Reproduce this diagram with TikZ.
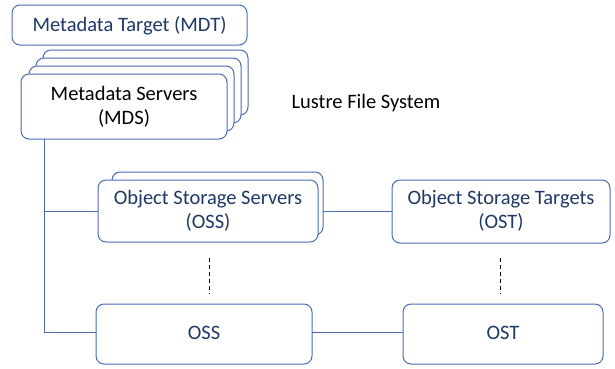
\documentclass[tikz,border=0pt]{standalone}
\usepackage{fontspec}
\setmainfont{Carlito}
\definecolor{edge}{HTML}{4A6BB5}
\definecolor{navy}{HTML}{1F3864}
\begin{document}
\begin{tikzpicture}[x=1pt,y=-1pt,
  box/.style={draw=edge,line width=1pt,rounded corners=8pt,fill=white},
  lbl/.style={font=\fontsize{20.5}{24.5}\selectfont,align=center},
  conn/.style={draw=edge,line width=1pt},
  dsh/.style={draw=black,line width=1pt,dash pattern=on 4pt off 3pt}]
\useasboundingbox (0,0) rectangle (615,368);
% MDT
\draw[box] (12,5) rectangle (247,45);
\node[lbl,text=navy] (mdt) at (129.5,25.5) {Metadata Target (MDT)};
% MDS stack
\draw[box] (43,50) rectangle (248,115);
\draw[box] (36,58) rectangle (241,123);
\draw[box] (29,66) rectangle (234,131);
\draw[box] (21,74) rectangle (227,139);
\coordinate (mdsb) at (44,139);
\node[lbl,text=black] (mds) at (124,107) {Metadata Servers\\(MDS)};
% label
\node[lbl,text=black,anchor=west] (lfs) at (288,103) {Lustre File System};
% OSS servers
\draw[box] (112,172) rectangle (323,235);
\draw[box] (98,180) rectangle (318,242);
\coordinate (ossl) at (98,211);
\coordinate (ossr) at (323,211);
\node[lbl,text=navy] (oss) at (208,211) {Object Storage Servers\\(OSS)};
% OST
\draw[box] (392,180) rectangle (610,243);
\coordinate (ostl) at (392,211);
\node[lbl,text=navy] (ost) at (501,211) {Object Storage Targets\\(OST)};
% bottom
\draw[box] (96,304) rectangle (312,364);
\node[lbl,text=navy] (oss2) at (204,333) {OSS};
\coordinate (oss2l) at (96,332);
\coordinate (oss2r) at (312,332);
\draw[box] (403,304) rectangle (603,364);
\node[lbl,text=navy] (ost2) at (503,333) {OST};
\coordinate (ost2l) at (403,332);
% connectors
\coordinate (c1) at (44,211);
\coordinate (c2) at (44,332);
\draw[conn] (mdsb) -- (c2) -- (oss2l);
\draw[conn] (c1) -- (ossl);
\draw[conn] (ossr) -- (ostl);
\draw[conn] (oss2r) -- (ost2l);
\coordinate (d1a) at (209,258);
\coordinate (d1b) at (209,294);
\coordinate (d2a) at (500,258);
\coordinate (d2b) at (500,294);
\draw[dsh] (d1a) -- (d1b);
\draw[dsh] (d2a) -- (d2b);
\end{tikzpicture}
\end{document}
